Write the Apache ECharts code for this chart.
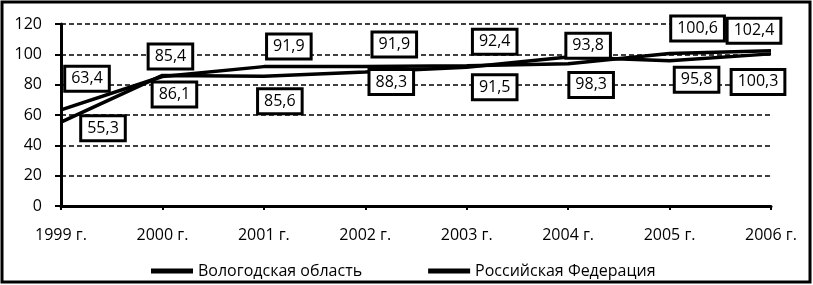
<!DOCTYPE html>
<html>
<head>
<meta charset="utf-8">
<script src="https://cdn.jsdelivr.net/npm/echarts@6/dist/echarts.min.js"></script>
<style>
html,body{margin:0;padding:0;background:#fff;}
#c{width:813px;height:285px;}
</style>
</head>
<body>
<div id="c"></div>
<script>
const categories = ['1999 г.', '2000 г.', '2001 г.', '2002 г.', '2003 г.', '2004 г.', '2005 г.', '2006 г.'];
const seriesNames = ['Вологодская область', 'Российская Федерация'];
const vologda = [63.4, 85.4, 91.9, 91.9, 92.4, 93.8, 100.6, 102.4];
const russia = [55.3, 86.1, 85.6, 88.3, 91.5, 98.3, 95.8, 100.3];
const yTicks = { min: 0, max: 120, interval: 20 };

// label placement offsets (layout only)
const vologdaLabelOffsets = [[26,-31],[8,-20],[25,-20],[29,-22],[28,-24],[20,-18],[28,-25],[-17,-20]];
const russiaLabelOffsets = [[42,6],[12,19],[16,25],[26,10],[28,20],[23,28],[27,19],[-13,28]];
const allOffsets = [vologdaLabelOffsets, russiaLabelOffsets];

const FONT = "'Open Sans', 'DejaVu Sans', sans-serif";
const labelStyle = {
  show: true,
  position: 'inside',
  color: '#000',
  fontFamily: FONT,
  fontSize: 16,
  backgroundColor: '#fff',
  borderColor: '#000',
  borderWidth: 3,
  padding: [3, 5, 3, 5],
  formatter: p => String(p.value).replace('.', ',')
};
function layoutFn(params) {
  const o = allOffsets[params.seriesIndex][params.dataIndex];
  return { dx: o[0], dy: o[1], hideOverlap: false };
}

const chart = echarts.init(document.getElementById('c'));
chart.setOption({
  backgroundColor: '#fff',
  animation: false,
  graphic: [{
    type: 'rect',
    shape: { x: 2, y: 2, width: 808, height: 280 },
    style: { fill: 'none', stroke: '#000', lineWidth: 3 },
    z: 100
  }],
  grid: { left: 61, right: 42, top: 24, bottom: 79, containLabel: false },
  legend: {
    left: 146,
    top: 258,
    itemGap: 66,
    itemWidth: 42,
    itemHeight: 5,
    icon: 'rect',
    textStyle: { color: '#000', fontSize: 16, fontFamily: FONT },
    data: seriesNames
  },
  xAxis: {
    type: 'category',
    data: categories,
    boundaryGap: false,
    axisLine: { lineStyle: { color: '#000', width: 3 } },
    axisTick: { show: true, length: 4, lineStyle: { color: '#000', width: 2 } },
    axisLabel: { show: true, margin: 21, color: '#000', fontSize: 16, fontFamily: FONT },
    splitLine: { show: false }
  },
  yAxis: {
    type: 'value',
    min: yTicks.min,
    max: yTicks.max,
    interval: yTicks.interval,
    axisLine: { show: true, lineStyle: { color: '#000', width: 3 } },
    axisTick: { show: true, length: 6, lineStyle: { color: '#000', width: 2 } },
    axisLabel: { color: '#000', fontSize: 16, margin: 19, fontFamily: FONT },
    splitLine: { show: true, lineStyle: { color: '#000', width: 1.5, type: [5, 3] } }
  },
  series: [
    {
      name: seriesNames[0],
      type: 'line',
      data: vologda,
      symbol: 'circle',
      symbolSize: 0.1,
      showSymbol: true,
      lineStyle: { color: '#000', width: 3.5 },
      itemStyle: { color: '#000' },
      label: labelStyle,
      labelLayout: layoutFn,
      z: 3
    },
    {
      name: seriesNames[1],
      type: 'line',
      data: russia,
      symbol: 'circle',
      symbolSize: 0.1,
      showSymbol: true,
      lineStyle: { color: '#000', width: 3.5 },
      itemStyle: { color: '#000' },
      label: labelStyle,
      labelLayout: layoutFn,
      z: 3
    }
  ]
});
</script>
</body>
</html>
